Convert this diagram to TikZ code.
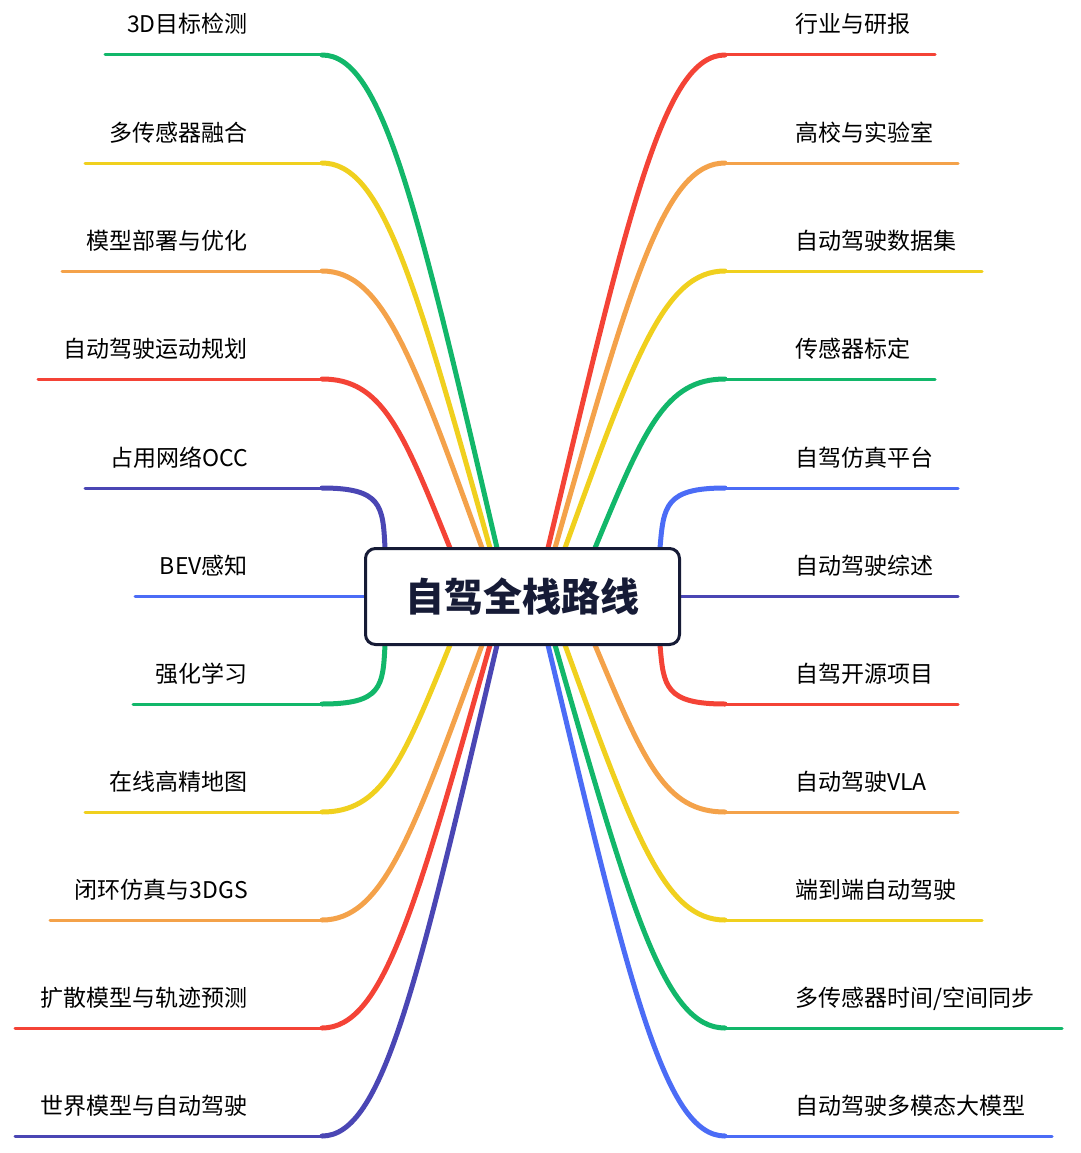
\documentclass[tikz,border=0pt]{standalone}
\usepackage{fontspec}
\setmainfont{Noto Sans CJK SC}
\usetikzlibrary{calc}
\definecolor{cgreen}{HTML}{12B76A}
\definecolor{cyellow}{HTML}{F0D01E}
\definecolor{corange}{HTML}{F4A24A}
\definecolor{cred}{HTML}{F44336}
\definecolor{cindigo}{HTML}{4A46B4}
\definecolor{cblue}{HTML}{4B6CF6}
\definecolor{navy}{HTML}{161B36}
\tikzset{
  lbl/.style={font=\fontsize{23}{23}\selectfont, inner sep=0pt},
  stem/.style={line width=3pt, line cap=round},
  curvebranch/.style={line width=5pt, line cap=round},
}
\begin{document}
\begin{tikzpicture}[x=1pt, y=-1pt]
\useasboundingbox (0,0) rectangle (1080,1153);

% Left branches: label / line y / left end / colour / target on box
\foreach \t/\y/\xs/\c/\tx/\ty [count=\i] in {
  3D目标检测/55/105/cgreen/497/548,
  多传感器融合/163/85/cyellow/490/548,
  模型部署与优化/271/62/corange/482/548,
  自动驾驶运动规划/379/38/cred/450/548,
  占用网络OCC/488/85/cindigo/385/548,
  强化学习/704/133/cgreen/385/645,
  在线高精地图/812/85/cyellow/450/645,
  闭环仿真与3DGS/920/50/corange/482/645,
  扩散模型与轨迹预测/1028/15/cred/490/645,
  世界模型与自动驾驶/1136/15/cindigo/497/645}
{
  \node[lbl, anchor=base east] (L\i) at (248,\y-22) {\t};
  \coordinate (La\i) at (\xs,\y);
  \coordinate (Lb\i) at (322,\y);
  \coordinate (Lt\i) at (\tx,\ty);
  \draw[stem,\c] (La\i) -- (Lb\i);
  \draw[curvebranch,\c] (Lb\i) .. controls ($(Lb\i)+(60,0)$) and ($(Lt\i)!0.7!($(Lb\i)+(60,0)$)$) .. (Lt\i);
}

% Right branches
\foreach \t/\y/\xe/\c/\tx/\ty [count=\i] in {
  行业与研报/55/935/cred/548/548,
  高校与实验室/163/958/corange/555/548,
  自动驾驶数据集/271/982/cyellow/565/548,
  传感器标定/379/935/cgreen/595/548,
  自驾仿真平台/488/958/cblue/660/548,
  自驾开源项目/704/958/cred/660/645,
  自动驾驶VLA/812/958/corange/595/645,
  端到端自动驾驶/920/982/cyellow/565/645,
  {多传感器时间/空间同步}/1028/1062/cgreen/555/645,
  自动驾驶多模态大模型/1136/1052/cblue/548/645}
{
  \node[lbl, anchor=base west] (R\i) at (795,\y-22) {\t};
  \coordinate (Ra\i) at (\xe,\y);
  \coordinate (Rb\i) at (725,\y);
  \coordinate (Rt\i) at (\tx,\ty);
  \draw[stem,\c] (Rb\i) -- (Ra\i);
  \draw[curvebranch,\c] (Rb\i) .. controls ($(Rb\i)+(-60,0)$) and ($(Rt\i)!0.7!($(Rb\i)+(-60,0)$)$) .. (Rt\i);
}

% Straight middle branches
\node[lbl, anchor=base east] (bev) at (248,574) {BEV感知};
\node[lbl, anchor=base west] (zs) at (795,574) {自动驾驶综述};
\coordinate (bevA) at (135,596);
\coordinate (zsA) at (958,596);
\draw[stem,cblue] (bevA) -- (370,596);
\draw[stem,cindigo] (675,596) -- (zsA);

% Centre
\node[draw=navy, line width=3pt, fill=white, rounded corners=10pt,
  minimum width=314pt, minimum height=96pt,
  font=\fontsize{39}{39}\selectfont\bfseries, text=navy] (root) at (522.5,596.5) {自驾全栈路线};
\end{tikzpicture}
\end{document}
